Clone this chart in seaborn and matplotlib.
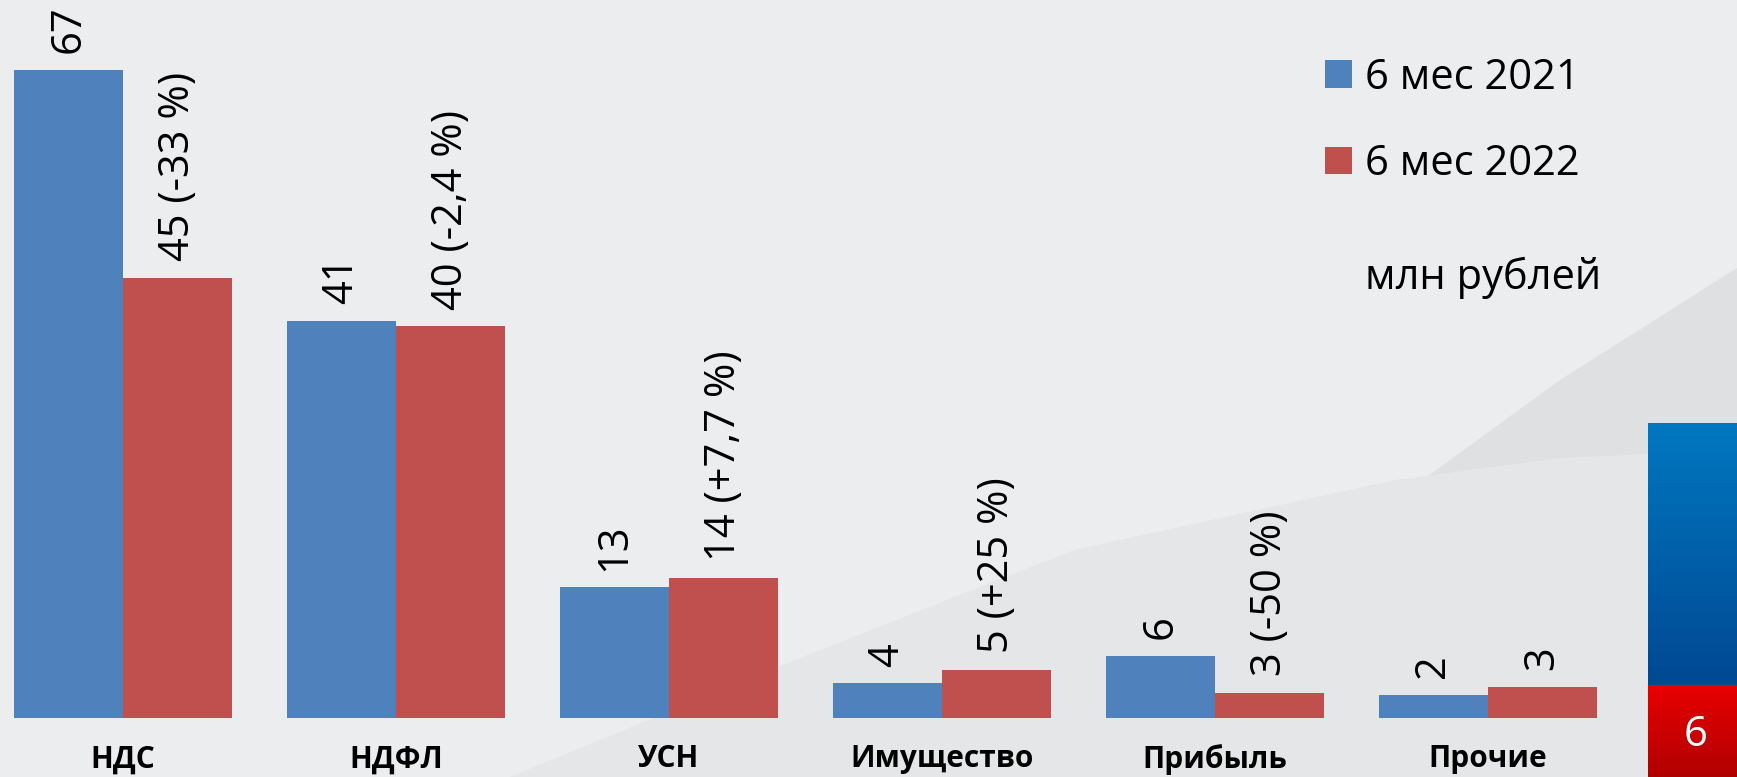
import numpy as np
import pandas as pd
import seaborn as sns
import matplotlib.pyplot as plt
from matplotlib.patches import Polygon

# данные: поступления, млн рублей
categories = ["НДС", "НДФЛ", "УСН", "Имущество", "Прибыль", "Прочие"]
periods = ["6 мес 2021", "6 мес 2022"]
values_2021 = [67, 41.1, 13.5, 3.6, 6.4, 2.4]
values_2022 = [45.5, 40.5, 14.5, 5.0, 2.6, 3.2]
labels_2021 = ["67", "41", "13", "4", "6", "2"]
labels_2022 = ["45 (-33 %)", "40 (-2,4 %)", "14 (+7,7 %)", "5 (+25 %)", "3 (-50 %)", "3"]

df = pd.DataFrame({
    "Налог": categories * 2,
    "Период": [periods[0]] * len(categories) + [periods[1]] * len(categories),
    "Сумма": values_2021 + values_2022,
})

sns.set_theme(style="white")
plt.rcParams["font.family"] = ["Open Sans", "DejaVu Sans"]
plt.rcParams["text.color"] = "black"
plt.rcParams["xtick.color"] = "black"

W, H = 1737, 777
bg = "#ecedef"
fig = plt.figure(figsize=(W / 100, H / 100), dpi=100, facecolor=bg)

# фоновые "волны" слайда
def px(points):
    return [(x / W, 1 - y / H) for x, y in points]

bgax = fig.add_axes([0, 0, 1, 1], zorder=-5)
bgax.set_xlim(0, 1)
bgax.set_ylim(0, 1)
bgax.axis("off")
wave1 = [(1144, 777), (1220, 700), (1297, 622), (1395, 500), (1560, 380), (1737, 268), (1737, 777)]
wave2 = [(510, 777), (583, 747), (800, 658), (1074, 550), (1395, 480), (1560, 458),
         (1737, 450), (1737, 777)]
bgax.add_patch(Polygon(px(wave1), closed=True, facecolor="#dfe0e2", edgecolor="none"))
bgax.add_patch(Polygon(px(wave2), closed=True, facecolor="#e5e6e8", edgecolor="none"))

base = 59 / H
ax = fig.add_axes([0, base, 1, 1 - base])
ax.set_facecolor("none")

sns.barplot(data=df, x="Налог", y="Сумма", hue="Период",
            palette=["#4f81bd", "#c0504d"], saturation=1,
            width=0.8, gap=0, linewidth=0, ax=ax)

ax.set_xlim(-123 / 273, (W - 123) / 273)
ax.set_ylim(0, 718 / 9.67)

ax.bar_label(ax.containers[0], labels=labels_2021, rotation=90, padding=12,
             fontsize=30, color="black")
ax.bar_label(ax.containers[1], labels=labels_2022, rotation=90, padding=12,
             fontsize=30, color="black")

ax.set_xlabel("")
ax.set_ylabel("")
ax.set_yticks([])
ax.tick_params(axis="x", length=0, pad=19, labelcolor="black")
for lab in ax.get_xticklabels():
    lab.set_fontsize(21.5)
    lab.set_fontweight("bold")
sns.despine(ax=ax, left=True, bottom=True)

handles, labels = ax.get_legend_handles_labels()
ax.legend(handles, labels, loc="upper left", bbox_to_anchor=(1325 / W, 1 - 57 / H),
          bbox_transform=fig.transFigure, frameon=False, fontsize=30,
          handlelength=0.65, handleheight=0.65, handletextpad=0.3,
          labelspacing=1.06, borderpad=0, borderaxespad=0, labelcolor="black")

fig.text(1365 / W, 1 - 278 / H, "млн рублей", fontsize=30, va="center", ha="left",
         color="black")

# плашка с номером слайда
bx = fig.add_axes([1648 / W, 92 / H, 89 / W, 262 / H])
grad = np.linspace(0, 1, 256).reshape(-1, 1)
bx.imshow(grad, aspect="auto", cmap=sns.blend_palette(["#0078c1", "#004892"], as_cmap=True))
bx.axis("off")
rx = fig.add_axes([1648 / W, 0, 89 / W, 92 / H])
rx.imshow(grad, aspect="auto", cmap=sns.blend_palette(["#e80000", "#b00000"], as_cmap=True))
rx.axis("off")
fig.text(1696 / W, 1 - 735 / H, "6", color="white", fontsize=30, ha="center", va="center")

fig.savefig("out.png", dpi=100, facecolor=bg)
